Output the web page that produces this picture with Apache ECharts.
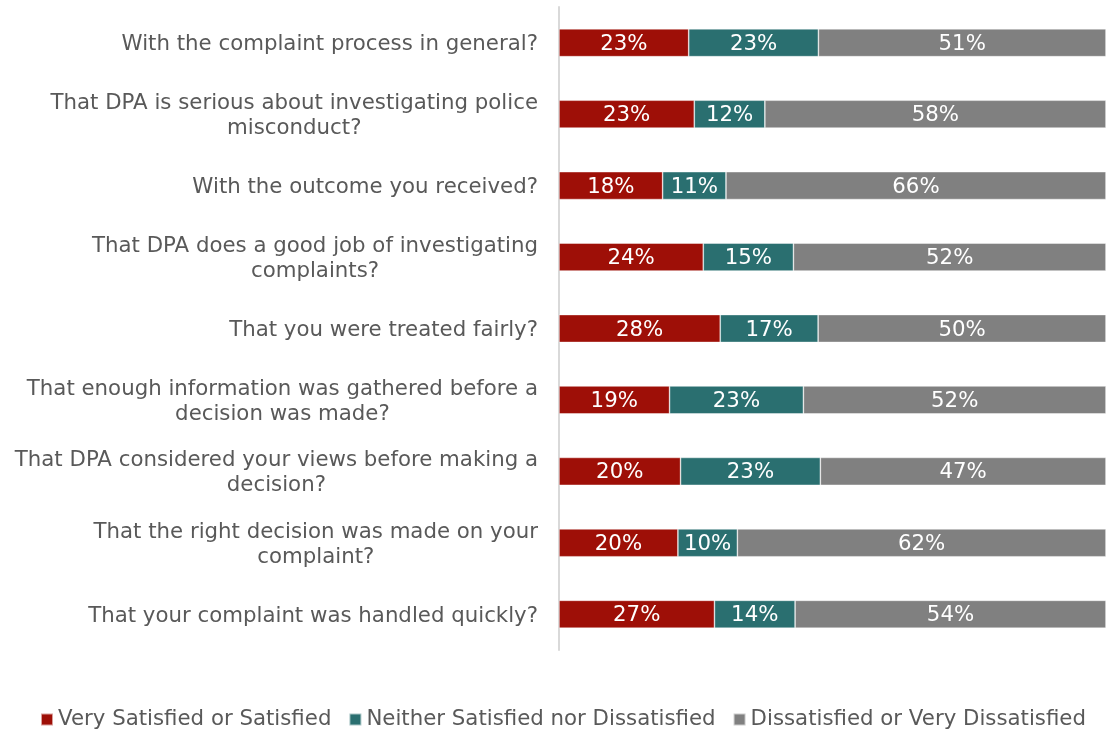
<!DOCTYPE html>
<html>
<head>
<meta charset="utf-8">
<script src="https://cdn.jsdelivr.net/npm/echarts@6/dist/echarts.min.js"></script>
<style>
  html, body { margin: 0; padding: 0; background: #fff; }
  #chart { width: 1106px; height: 730px; }
</style>
</head>
<body>
<div id="chart"></div>
<script>
// Survey questions, top to bottom
const questions = [
  "With the complaint process in general?",
  "That DPA is serious about investigating police\nmisconduct?",
  "With the outcome you received?",
  "That DPA does a good job of investigating\ncomplaints?",
  "That you were treated fairly?",
  "That enough information was gathered before a\ndecision was made?",
  "That DPA considered your views before making a\ndecision?",
  "That the right decision was made on your\ncomplaint?",
  "That your complaint was handled quickly?"
];

const seriesNames = [
  "Very Satisfied or Satisfied",
  "Neither Satisfied nor Dissatisfied",
  "Dissatisfied or Very Dissatisfied"
];

// Reported percentages per question
const satisfied    = [23, 23, 18, 24, 28, 19, 20, 20, 27];
const neither      = [23, 12, 11, 15, 17, 23, 23, 10, 14];
const dissatisfied = [51, 58, 66, 52, 50, 52, 47, 62, 54];

const colors = ["#9E0F07", "#2A6F70", "#808080"];
const FONT = '"DejaVu Sans", Verdana, sans-serif';
const FS = 21.3;

const groups = [satisfied, neither, dissatisfied];
// Each bar row fills the full width (100% stacked): share of the row total
const rowTotals = questions.map((_, i) => groups.reduce((s, g) => s + g[i], 0));

const series = groups.map((vals, k) => ({
  name: seriesNames[k],
  type: 'bar',
  stack: 'total',
  barWidth: '39%',
  itemStyle: { color: colors[k], borderColor: 'rgba(255,255,255,0.6)', borderWidth: 0.7 },
  label: {
    show: true,
    position: 'inside',
    offset: [0, 1.5],
    color: '#fff',
    fontFamily: FONT,
    fontSize: FS,
    formatter: p => vals[p.dataIndex] + '%'
  },
  data: vals.map((v, i) => v / rowTotals[i] * 100)
}));

const chart = echarts.init(document.getElementById('chart'), null, { renderer: 'canvas' });
chart.setOption({
  animation: false,
  color: colors,
  grid: { left: 559, right: 0, top: 7, bottom: 80 },
  xAxis: {
    type: 'value',
    min: 0,
    max: 100,
    show: false
  },
  yAxis: {
    type: 'category',
    inverse: true,
    data: questions,
    axisLine: { show: true, lineStyle: { color: '#D9D9D9', width: 2 } },
    axisTick: { show: false },
    axisLabel: {
      margin: 21,
      align: 'right',
      lineHeight: 25,
      padding: [4, 0, 0, 0],
      formatter: v => v.split('\n').map(s => '{c|' + s + '}').join('\n'),
      rich: {
        c: { align: 'center', color: '#595959', fontFamily: FONT, fontSize: FS, lineHeight: 25 }
      }
    }
  },
  legend: {
    top: 704,
    left: 35,
    icon: 'rect',
    itemWidth: 12,
    itemHeight: 12,
    itemGap: 17,
    textStyle: { color: '#595959', fontFamily: FONT, fontSize: FS },
    data: seriesNames
  },
  series: series
});
</script>
</body>
</html>
